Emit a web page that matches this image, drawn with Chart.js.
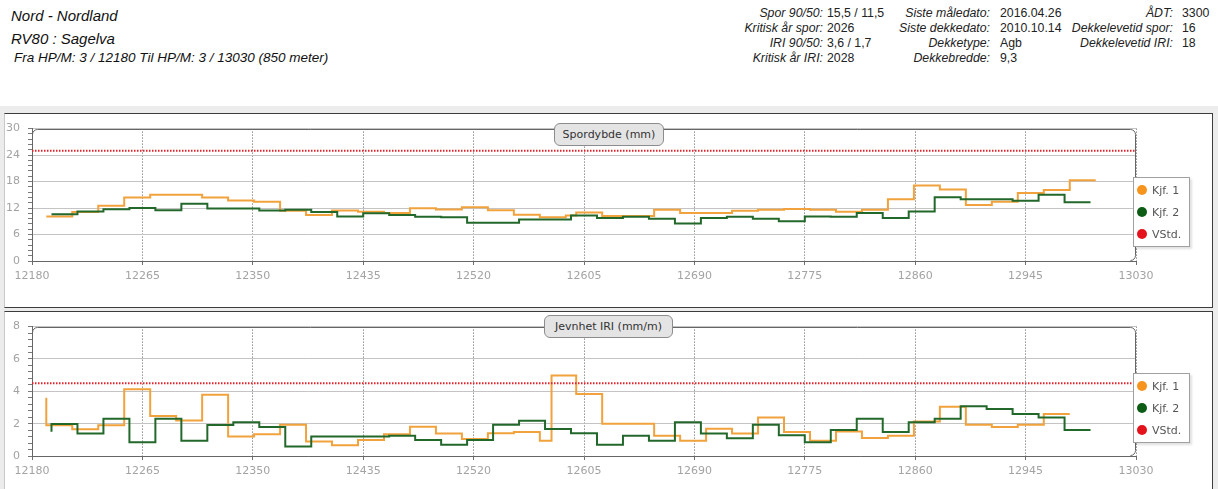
<!DOCTYPE html>
<html><head><meta charset="utf-8"><title>Nord - Nordland RV80 : Sagelva</title>
<script src="https://cdn.jsdelivr.net/npm/chart.js@4.4.1/dist/chart.umd.min.js"></script>
<style>
html,body{margin:0;padding:0;background:#fff;}
body{position:relative;width:1218px;height:489px;overflow:hidden;font-family:"Liberation Sans",Arial,sans-serif;}
#band{position:absolute;left:0;top:106px;width:1218px;height:383px;background:#ececec;}
.panel{position:absolute;left:4px;width:1209px;background:#fff;border:1px solid #3c3c3c;border-left-color:#c8c8c8;box-sizing:border-box;}
#panel1{top:113px;height:195px;}
#panel2{top:311px;height:190px;}
canvas{position:absolute;left:0;}
.hl{position:absolute;left:11px;font-style:italic;color:#111;white-space:nowrap;}
.lab{position:absolute;font-style:italic;font-size:12.3px;line-height:12px;color:#222;text-align:right;white-space:nowrap;}
.val{position:absolute;font-size:12.3px;line-height:12px;color:#222;white-space:nowrap;}
.ttl{position:absolute;box-sizing:border-box;height:23px;line-height:21px;border:1px solid #8c8c8c;border-radius:6px;background:#e4e4e4;font-family:"DejaVu Sans";font-size:11px;color:#333;text-align:center;white-space:nowrap;}
.leg{position:absolute;box-sizing:border-box;left:1133px;width:57px;height:70px;border:1px solid #a0a0a0;background:#fff;box-shadow:2px 2px 2px rgba(0,0,0,0.12);font-family:"DejaVu Sans";font-size:11px;color:#555;}
.leg .it{position:absolute;left:3px;height:14px;display:flex;align-items:center;white-space:nowrap;}
.leg .dot{width:10px;height:10px;border-radius:50%;margin-right:5px;flex:none;}
</style>
</head><body>
<div id="band"></div>
<div class="panel" id="panel1"></div>
<div class="panel" id="panel2"></div>

<div class="hl" style="top:8px;font-size:15px;line-height:15px;">Nord - Nordland</div>
<div class="hl" style="top:31px;font-size:15px;line-height:15px;">RV80 : Sagelva</div>
<div class="hl" style="left:14px;top:51px;font-size:13.5px;line-height:13px;">Fra HP/M: 3 / 12180 Til HP/M: 3 / 13030 (850 meter)</div>

<div class="lab" style="right:395px;top:7px;">Spor 90/50:</div><div class="val" style="left:827px;top:7px;">15,5 / 11,5</div>
<div class="lab" style="right:395px;top:22px;">Kritisk år spor:</div><div class="val" style="left:827px;top:22px;">2026</div>
<div class="lab" style="right:395px;top:36.5px;">IRI 90/50:</div><div class="val" style="left:827px;top:36.5px;">3,6 / 1,7</div>
<div class="lab" style="right:395px;top:51.5px;">Kritisk år IRI:</div><div class="val" style="left:827px;top:51.5px;">2028</div>

<div class="lab" style="right:228px;top:7px;">Siste måledato:</div><div class="val" style="left:1000px;top:7px;">2016.04.26</div>
<div class="lab" style="right:228px;top:22px;">Siste dekkedato:</div><div class="val" style="left:1000px;top:22px;">2010.10.14</div>
<div class="lab" style="right:228px;top:36.5px;">Dekketype:</div><div class="val" style="left:1000px;top:36.5px;">Agb</div>
<div class="lab" style="right:228px;top:51.5px;">Dekkebredde:</div><div class="val" style="left:1000px;top:51.5px;">9,3</div>

<div class="lab" style="right:45px;top:7px;">ÅDT:</div><div class="val" style="left:1182px;top:7px;">3300</div>
<div class="lab" style="right:45px;top:22px;">Dekkelevetid spor:</div><div class="val" style="left:1182px;top:22px;">16</div>
<div class="lab" style="right:45px;top:36.5px;">Dekkelevetid IRI:</div><div class="val" style="left:1182px;top:36.5px;">18</div>

<canvas id="c1" width="1218" height="192" style="top:114px;"></canvas>
<canvas id="c2" width="1218" height="177" style="top:312px;"></canvas>

<div class="ttl" style="left:554px;top:123px;width:110px;">Spordybde (mm)</div>
<div class="ttl" style="left:544px;top:315px;width:129px;">Jevnhet IRI (mm/m)</div>
<div class="leg" id="leg1" style="top:177px;"></div>
<div class="leg" id="leg2" style="top:373px;"></div>

<script>
// ---- axis ticks ----
const xTicks = [12180, 12265, 12350, 12435, 12520, 12605, 12690, 12775, 12860, 12945, 13030];
const sporTicks = [0, 6, 12, 18, 24, 30];
const iriTicks = [0, 2, 4, 6, 8];
const seriesNames = ['Kjf. 1', 'Kjf. 2', 'VStd.'];

// ---- Spordybde (mm) ----
const sporKjf1X = [12191, 12211, 12231, 12251, 12271, 12291, 12311, 12331, 12351, 12371, 12391, 12411, 12431, 12451, 12471, 12491, 12511, 12531, 12551, 12571, 12591, 12599, 12619, 12639, 12659, 12679, 12699, 12719, 12739, 12759, 12779, 12799, 12819, 12839, 12859, 12879, 12899, 12919, 12939, 12959, 12979, 12999];
const sporKjf1 = [10.1, 10.1, 11.1, 12.5, 14.4, 15.0, 15.0, 14.4, 13.7, 13.4, 11.4, 10.4, 11.45, 11.15, 10.85, 11.95, 11.67, 12.2, 11.5, 10.5, 9.9, 10.3, 11.0, 10.2, 10.2, 11.6, 10.85, 10.85, 11.4, 11.6, 11.8, 11.6, 11.15, 11.6, 14.0, 17.1, 16.2, 12.7, 13.4, 15.4, 16.1, 18.3];
const sporKjf2X = [12195, 12215, 12235, 12255, 12275, 12295, 12315, 12335, 12355, 12375, 12395, 12415, 12435, 12455, 12475, 12495, 12515, 12535, 12555, 12575, 12595, 12615, 12635, 12655, 12675, 12695, 12715, 12735, 12755, 12775, 12795, 12815, 12835, 12855, 12875, 12895, 12915, 12935, 12955, 12975, 12995];
const sporKjf2 = [10.6, 10.6, 11.2, 11.7, 12.0, 11.5, 13.0, 11.9, 11.9, 11.45, 11.6, 11.1, 10.1, 10.8, 10.4, 10.05, 9.9, 8.65, 8.65, 9.4, 9.4, 10.3, 9.75, 10.05, 9.55, 8.5, 9.75, 10.05, 9.55, 9.0, 10.1, 10.0, 10.9, 9.75, 11.2, 14.45, 14.0, 14.0, 13.65, 15.0, 13.3];
const sporVStdX = [12180, 13030];
const sporVStd = [25, 25];

// ---- Jevnhet IRI (mm/m) ----
const iriKjf1X = [12191, 12211, 12231, 12251, 12271, 12291, 12311, 12331, 12351, 12371, 12391, 12411, 12431, 12451, 12471, 12491, 12511, 12531, 12551, 12571, 12580, 12599, 12619, 12639, 12659, 12679, 12699, 12719, 12739, 12759, 12779, 12799, 12819, 12839, 12859, 12879, 12899, 12919, 12939, 12959, 12979];
const iriKjf1 = [3.6, 1.9, 1.65, 1.9, 4.13, 2.48, 2.2, 3.79, 1.21, 1.35, 1.93, 0.89, 0.66, 0.99, 1.35, 1.81, 1.39, 1.05, 1.41, 1.49, 0.95, 4.98, 3.83, 1.99, 1.99, 1.25, 0.95, 1.69, 1.39, 2.38, 1.49, 0.95, 1.52, 1.11, 1.25, 2.14, 3.04, 1.93, 1.79, 1.93, 2.6];
const iriKjf2X = [12195, 12215, 12235, 12255, 12275, 12295, 12315, 12335, 12355, 12375, 12395, 12415, 12435, 12455, 12475, 12495, 12515, 12535, 12555, 12575, 12595, 12615, 12635, 12655, 12675, 12695, 12715, 12735, 12755, 12775, 12795, 12815, 12835, 12855, 12875, 12895, 12915, 12935, 12955, 12975, 12995];
const iriKjf2 = [1.5, 1.98, 1.39, 2.3, 0.85, 2.3, 0.95, 1.91, 2.08, 1.79, 0.58, 1.21, 1.21, 1.21, 1.25, 0.99, 0.7, 0.99, 1.93, 2.18, 1.67, 1.4, 0.7, 1.25, 0.95, 2.08, 1.39, 1.09, 1.93, 1.29, 0.85, 1.6, 2.3, 1.49, 2.08, 2.3, 3.08, 2.9, 2.6, 2.38, 1.61];
const iriVStdX = [12180, 13030];
const iriVStd = [4.5, 4.5];

// ---- styling ----
const LINE_ORANGE = '#f2a23c', LINE_GREEN = '#23682b', LINE_RED = '#e3232b';
const DOT_ORANGE = '#f7941e', DOT_GREEN = '#0d5c16', DOT_RED = '#e3121b';
const TICK_FONT = {family: 'DejaVu Sans', size: 11};

function pts(xs, ys) { return xs.map((x, i) => ({x: x, y: ys[i]})); }
function isMajor(v, majors) { return majors.some(m => Math.abs(m - v) < 1e-6); }

const framePlugin = {
  id: 'frame',
  beforeDatasetsDraw(chart) {
    const ctx = chart.ctx, a = chart.chartArea, r = 5;
    const L = Math.round(a.left) + 0.5, T = Math.round(a.top) + 0.5, R = Math.round(a.right) - 0.5, B = Math.round(a.bottom) - 0.5;
    ctx.save();
    ctx.strokeStyle = '#666';
    ctx.lineWidth = 1;
    ctx.beginPath();
    ctx.moveTo(L, B);
    ctx.lineTo(L, T + r);
    ctx.arcTo(L, T, L + r, T, r);
    ctx.lineTo(R - r, T);
    ctx.arcTo(R, T, R, T + r, r);
    ctx.lineTo(R, B - r);
    ctx.arcTo(R, B, R - r, B, r);
    ctx.stroke();
    ctx.restore();
  }
};

function makeChart(id, sets, majors, minorDiv, padTop, xAxisH) {
  const yMin = majors[0], yMax = majors[majors.length - 1];
  return new Chart(document.getElementById(id), {
    type: 'line',
    data: {
      datasets: [
        {label: seriesNames[0], data: pts(sets[0], sets[1]), borderColor: LINE_ORANGE, backgroundColor: DOT_ORANGE, borderWidth: 2, pointRadius: 0, stepped: 'after', fill: false, order: 2},
        {label: seriesNames[1], data: pts(sets[2], sets[3]), borderColor: LINE_GREEN, backgroundColor: DOT_GREEN, borderWidth: 2, pointRadius: 0, stepped: 'after', fill: false, order: 1},
        {label: seriesNames[2], data: pts(sets[4], sets[5]), borderColor: LINE_RED, backgroundColor: DOT_RED, borderWidth: 2, borderDash: [1.5, 1.5], pointRadius: 0, fill: false, order: 0}
      ]
    },
    options: {
      responsive: false,
      animation: false,
      events: [],
      layout: {padding: {top: padTop, right: 82, left: 0, bottom: 0}},
      plugins: {legend: {display: false}, tooltip: {enabled: false}, title: {display: false}},
      scales: {
        x: {
          type: 'linear', min: xTicks[0], max: xTicks[xTicks.length - 1],
          afterBuildTicks: s => { s.ticks = xTicks.map(v => ({value: v})); },
          afterFit: s => { s.height = xAxisH; },
          ticks: {autoSkip: false, maxRotation: 0, minRotation: 0, padding: 5, color: '#a3a3a3', font: TICK_FONT, callback: v => String(v)},
          grid: {color: '#5a5a5a', lineWidth: 1, tickLength: 4, tickColor: '#707070'},
          border: {color: '#666', width: 1, dash: [1, 2]}
        },
        y: {
          type: 'linear', min: yMin, max: yMax,
          afterBuildTicks: s => {
            const t = [];
            for (let i = 0; i < majors.length - 1; i++) {
              const step = (majors[i + 1] - majors[i]) / minorDiv;
              for (let k = 0; k < minorDiv; k++) t.push({value: majors[i] + k * step});
            }
            t.push({value: yMax});
            s.ticks = t;
          },
          afterFit: s => { s.width = 32; },
          ticks: {autoSkip: false, padding: 8, color: '#a3a3a3', font: TICK_FONT, callback: v => isMajor(v, majors) ? String(v) : ''},
          grid: {
            color: c => (c.tick && isMajor(c.tick.value, majors)) ? '#c4c4c4' : 'rgba(0,0,0,0)',
            tickLength: 4, tickColor: '#7a7a7a'
          },
          border: {color: '#666', width: 1}
        }
      }
    },
    plugins: [framePlugin]
  });
}

function buildLegend(chart, el) {
  const tops = [5, 27, 49];
  chart.data.datasets.forEach((ds, i) => {
    const it = document.createElement('div');
    it.className = 'it';
    it.style.top = tops[i] + 'px';
    const dot = document.createElement('span');
    dot.className = 'dot';
    dot.style.background = ds.backgroundColor;
    const tx = document.createElement('span');
    tx.textContent = ds.label;
    it.appendChild(dot);
    it.appendChild(tx);
    el.appendChild(it);
  });
}

const chart1 = makeChart('c1', [sporKjf1X, sporKjf1, sporKjf2X, sporKjf2, sporVStdX, sporVStd], sporTicks, 5, 10, 45);
const chart2 = makeChart('c2', [iriKjf1X, iriKjf1, iriKjf2X, iriKjf2, iriVStdX, iriVStd], iriTicks, 5, 10, 33);
buildLegend(chart1, document.getElementById('leg1'));
buildLegend(chart2, document.getElementById('leg2'));
</script>
</body></html>
